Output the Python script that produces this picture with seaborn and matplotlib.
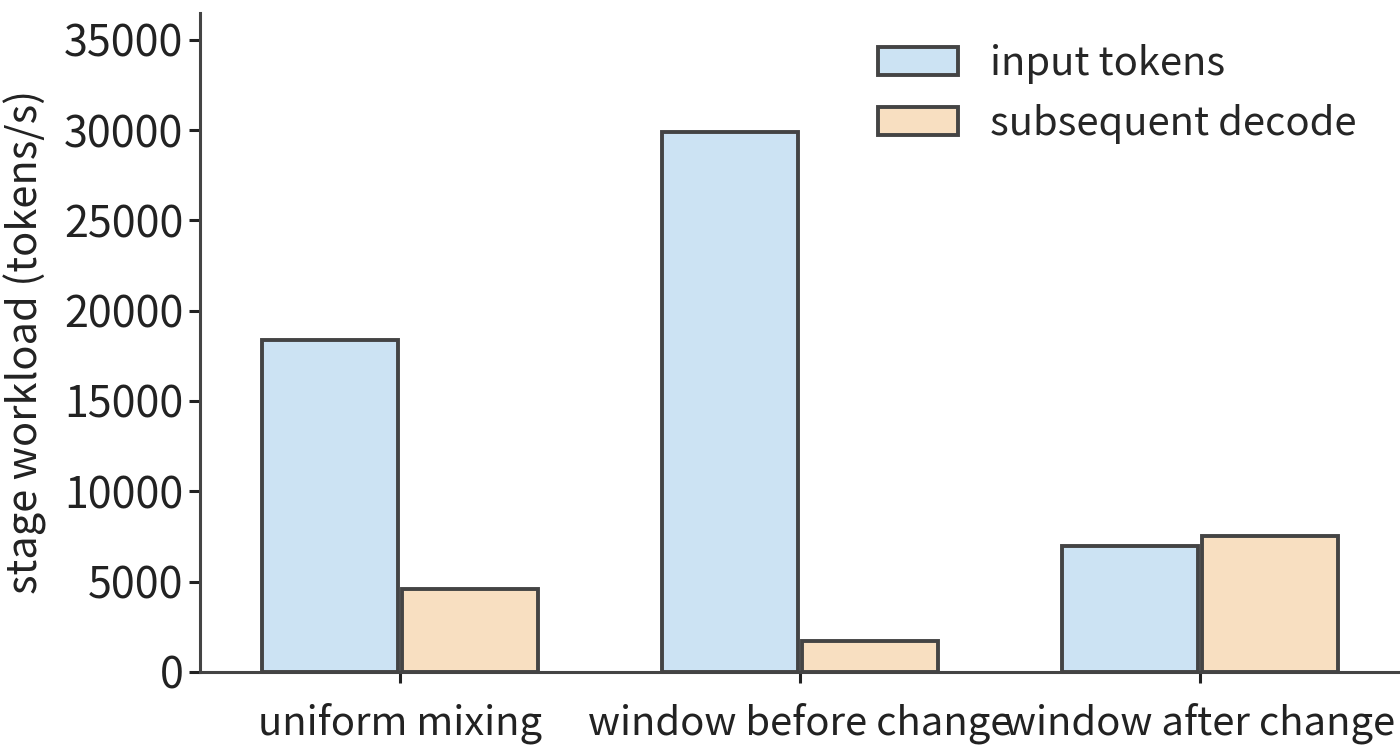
import pandas as pd
import matplotlib
matplotlib.use('Agg')
import matplotlib.pyplot as plt
import seaborn as sns

# values
categories = ['uniform mixing', 'window before change', 'window after change']
input_tokens = [18400, 29900, 6950]
subsequent_decode = [4600, 1700, 7500]
series_names = ['input tokens', 'subsequent decode']
colors = ['#cce3f3', '#f8dfc1']
edge = '#444444'

rows = []
for i, c in enumerate(categories):
    rows.append({'case': c, 'kind': series_names[0], 'rate': input_tokens[i]})
    rows.append({'case': c, 'kind': series_names[1], 'rate': subsequent_decode[i]})
df = pd.DataFrame(rows)

sns.set_theme(style='ticks')
plt.rcParams['font.family'] = ['Noto Sans CJK SC', 'DejaVu Sans']
plt.rcParams['axes.edgecolor'] = edge
plt.rcParams['axes.linewidth'] = 1.1
plt.rcParams['xtick.color'] = '#222222'
plt.rcParams['ytick.color'] = '#222222'

fs = 14.4
fig, ax = plt.subplots(figsize=(7, 3.745), dpi=200)
sns.barplot(data=df, x='case', y='rate', hue='kind', palette=colors, saturation=1,
            width=0.7, gap=0.03, edgecolor=edge, linewidth=1.4, ax=ax)

ax.set_xlim(-0.5, 2.5)
ax.set_ylim(0, 36500)
ax.set_yticks([0, 5000, 10000, 15000, 20000, 25000, 30000, 35000])
ax.set_xlabel('')
ax.set_ylabel('stage workload (tokens/s)', fontsize=15, color='#222222', labelpad=6)
ax.tick_params(axis='both', length=4, width=1.1, labelcolor='#222222')
ax.tick_params(axis='x', labelsize=fs, pad=7)
ax.tick_params(axis='y', labelsize=15.5, pad=2)
sns.despine(ax=ax)

ax.legend(loc='upper right', frameon=False, fontsize=fs,
          borderaxespad=0, bbox_to_anchor=(0.977, 0.977))

fig.subplots_adjust(left=0.143, right=1.0, bottom=0.103, top=0.983)
fig.savefig('out.png', dpi=200)
